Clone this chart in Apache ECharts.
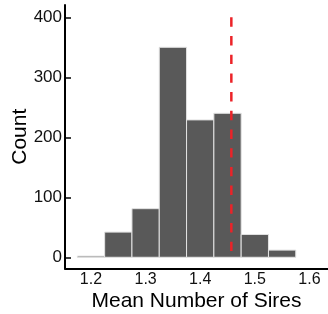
<!DOCTYPE html>
<html>
<head>
<meta charset="utf-8">
<script src="https://cdn.jsdelivr.net/npm/echarts@6/dist/echarts.min.js"></script>
<style>
  html, body { margin: 0; padding: 0; background: #fff; }
  #chart { width: 328px; height: 314px; }
</style>
</head>
<body>
<div id="chart"></div>
<script>
// histogram bins (width 0.05) and counts
const binStarts = [1.175, 1.225, 1.275, 1.325, 1.375, 1.425, 1.475, 1.525]
const binWidth = 0.05
const counts = [2, 42, 81, 350, 229, 240, 38, 12]
const xTicks = [1.2, 1.3, 1.4, 1.5, 1.6]
const yTicks = [0, 100, 200, 300, 400]
const observedMean = 1.457
const lineRange = [400, 0]

const fontFamily = '"Liberation Sans", Arial, sans-serif'

const bars = binStarts.map((s, i) => [s, s + binWidth, counts[i]])

const chart = echarts.init(document.getElementById('chart'))

chart.setOption({
  animation: false,
  // v6 would otherwise shrink the grid to keep the axis names inside the canvas
  grid: { left: 65, right: 0, top: 5, bottom: 45.5, outerBoundsMode: 'none' },
  xAxis: {
    type: 'value',
    min: 1.1524,
    max: 1.634,
    name: 'Mean Number of Sires',
    nameLocation: 'middle',
    nameGap: 22,
    nameMoveOverlap: false,
    nameTextStyle: { color: '#000', fontSize: 21, fontFamily, verticalAlign: 'top' },
    axisLine: { show: true, onZero: false, lineStyle: { color: '#000', width: 2 } },
    axisTick: { show: false },
    splitLine: { show: false },
    axisLabel: {
      customValues: xTicks,
      formatter: (v) => v.toFixed(1),
      color: '#111',
      fontSize: 16,
      fontFamily,
      margin: 3,
    },
  },
  yAxis: {
    type: 'value',
    min: -18.7,
    max: 420.5,
    name: 'Count',
    nameLocation: 'middle',
    nameGap: 34.5,
    nameMoveOverlap: false,
    nameTextStyle: { color: '#000', fontSize: 21, fontFamily },
    axisLine: { show: true, onZero: false, lineStyle: { color: '#000', width: 2 } },
    axisTick: {
      show: true,
      inside: true,
      length: 6,
      customValues: yTicks,
      lineStyle: { color: '#000', width: 1.5 },
    },
    splitLine: { show: false },
    axisLabel: {
      customValues: yTicks,
      color: '#111',
      fontSize: 17,
      fontFamily,
      margin: 3,
    },
  },
  series: [
    {
      type: 'custom',
      data: bars,
      encode: { x: [0, 1], y: 2 },
      renderItem: (params, api) => {
        const p0 = api.coord([api.value(0), 0])
        const p1 = api.coord([api.value(1), api.value(2)])
        return {
          type: 'rect',
          shape: { x: p0[0], y: p1[1], width: p1[0] - p0[0], height: p0[1] - p1[1] },
          style: { fill: '#595959', stroke: '#e3e3e3', lineWidth: 1 },
        }
      },
    },
    {
      type: 'line',
      symbol: 'none',
      data: lineRange.map((v) => [observedMean, v]),
      lineStyle: { color: '#ec2328', width: 2.5, type: [9.4, 9.3] },
      z: 5,
    },
  ],
})
</script>
</body>
</html>
